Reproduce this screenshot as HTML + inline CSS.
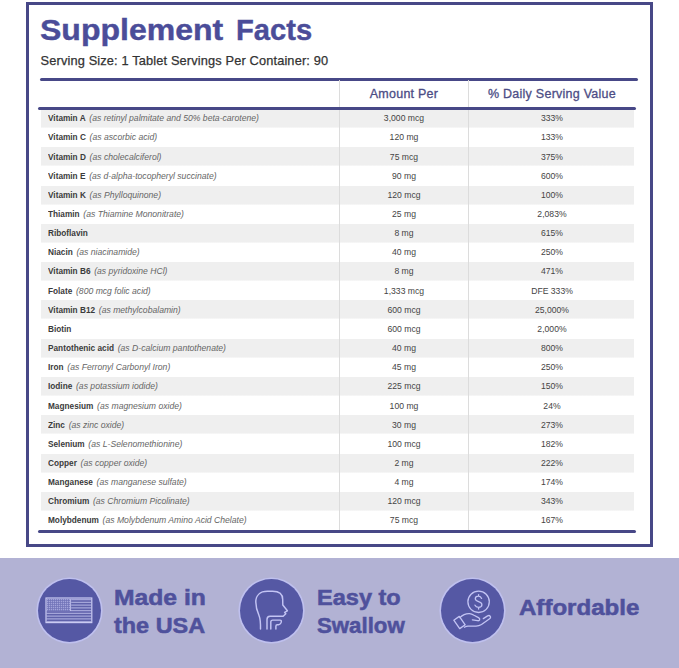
<!DOCTYPE html>
<html><head><meta charset="utf-8">
<style>
*{margin:0;padding:0;box-sizing:border-box}
html,body{width:679px;height:668px;overflow:hidden;background:#fff;font-family:"Liberation Sans",sans-serif}
#frame{position:absolute;left:26px;top:2px;width:627px;height:545px;border:3px solid #474887}
.t{position:absolute;white-space:nowrap;transform-origin:0 0}
#title,#title2{top:12.2px;font-size:29.3px;font-weight:bold;color:#4b4d99;line-height:36px;-webkit-text-stroke:0.4px #4b4d99}
#serv{left:40.6px;top:54px;font-size:12.8px;color:#333;line-height:14px;letter-spacing:0.14px;-webkit-text-stroke:0.25px #333}
.hl{position:absolute;height:3px;background:#474887;border-radius:2px}
.vd{position:absolute;width:1px;background:#dcdcdc;top:80px;height:451px}
.hdr{position:absolute;top:87.2px;font-size:12.5px;color:#4c4d85;-webkit-text-stroke:0.3px #4c4d85;white-space:nowrap;line-height:14px;text-align:center;letter-spacing:0.25px}
.row{position:absolute;left:41.3px;width:593px;height:19.15px}
.row.g{background:linear-gradient(#efefef,#efefef) 0 0/100% 18.6px no-repeat}
.lab{position:absolute;left:6.6px;top:3.4px;font-size:9.4px;line-height:11px;white-space:nowrap;color:#333;transform:scaleX(0.88);transform-origin:0 0}
.lab b{font-weight:bold;color:#3b3b3b}
.lab i{color:#666;margin-left:4.2px;font-size:9.8px}
.c2,.c3{position:absolute;top:3.4px;font-size:9.8px;line-height:11px;text-align:center;color:#444;transform:scaleX(0.88)}
.c2{left:298px;width:130px}
.c3{left:428px;width:166px}
#band{position:absolute;left:0;top:557.5px;width:679px;height:111px;background:#b2b2d4}
.circ{position:absolute;width:63px;height:63px;border-radius:50%;background:#5558a4;box-shadow:0 0 0 1.6px #bfc0ee}
.bt{position:absolute;font-size:22.3px;font-weight:bold;color:#4f519c;line-height:27.5px;white-space:nowrap;-webkit-text-stroke:0.55px #4f519c}
.bt span{display:block;transform-origin:0 50%}
svg{position:absolute;left:0;top:0}
</style></head><body>
<div id="frame"></div>
<div id="title" class="t" style="left:40.3px"><span style="display:inline-block;transform:scaleX(1.093);transform-origin:0 0">Supplement</span></div><div id="title2" class="t" style="left:235.5px"><span style="display:inline-block;transform:scaleX(0.994);transform-origin:0 0">Facts</span></div>
<div id="serv" class="t">Serving Size: 1 Tablet Servings Per Container: 90</div>
<div class="hl" style="left:40px;top:78px;width:598px"></div>
<div class="hdr" style="left:339px;width:130px">Amount Per</div>
<div class="hdr" style="left:469px;width:166px">% Daily Serving Value</div>
<div id="rows">
<div class="row g" style="top:108.90px"><div class="lab"><b>Vitamin A</b><i>(as retinyl palmitate and 50% beta-carotene)</i></div><div class="c2">3,000 mcg</div><div class="c3">333%</div></div>
<div class="row" style="top:128.05px"><div class="lab"><b>Vitamin C</b><i>(as ascorbic acid)</i></div><div class="c2">120 mg</div><div class="c3">133%</div></div>
<div class="row g" style="top:147.20px"><div class="lab"><b>Vitamin D</b><i>(as cholecalciferol)</i></div><div class="c2">75 mcg</div><div class="c3">375%</div></div>
<div class="row" style="top:166.35px"><div class="lab"><b>Vitamin E</b><i>(as d-alpha-tocopheryl succinate)</i></div><div class="c2">90 mg</div><div class="c3">600%</div></div>
<div class="row g" style="top:185.50px"><div class="lab"><b>Vitamin K</b><i>(as Phylloquinone)</i></div><div class="c2">120 mcg</div><div class="c3">100%</div></div>
<div class="row" style="top:204.65px"><div class="lab"><b>Thiamin</b><i>(as Thiamine Mononitrate)</i></div><div class="c2">25 mg</div><div class="c3">2,083%</div></div>
<div class="row g" style="top:223.80px"><div class="lab"><b>Riboflavin</b></div><div class="c2">8 mg</div><div class="c3">615%</div></div>
<div class="row" style="top:242.95px"><div class="lab"><b>Niacin</b><i>(as niacinamide)</i></div><div class="c2">40 mg</div><div class="c3">250%</div></div>
<div class="row g" style="top:262.10px"><div class="lab"><b>Vitamin B6</b><i>(as pyridoxine HCl)</i></div><div class="c2">8 mg</div><div class="c3">471%</div></div>
<div class="row" style="top:281.25px"><div class="lab"><b>Folate</b><i>(800 mcg folic acid)</i></div><div class="c2">1,333 mcg</div><div class="c3">DFE 333%</div></div>
<div class="row g" style="top:300.40px"><div class="lab"><b>Vitamin B12</b><i>(as methylcobalamin)</i></div><div class="c2">600 mcg</div><div class="c3">25,000%</div></div>
<div class="row" style="top:319.55px"><div class="lab"><b>Biotin</b></div><div class="c2">600 mcg</div><div class="c3">2,000%</div></div>
<div class="row g" style="top:338.70px"><div class="lab"><b>Pantothenic acid</b><i>(as D-calcium pantothenate)</i></div><div class="c2">40 mg</div><div class="c3">800%</div></div>
<div class="row" style="top:357.85px"><div class="lab"><b>Iron</b><i>(as Ferronyl Carbonyl Iron)</i></div><div class="c2">45 mg</div><div class="c3">250%</div></div>
<div class="row g" style="top:377.00px"><div class="lab"><b>Iodine</b><i>(as potassium iodide)</i></div><div class="c2">225 mcg</div><div class="c3">150%</div></div>
<div class="row" style="top:396.15px"><div class="lab"><b>Magnesium</b><i>(as magnesium oxide)</i></div><div class="c2">100 mg</div><div class="c3">24%</div></div>
<div class="row g" style="top:415.30px"><div class="lab"><b>Zinc</b><i>(as zinc oxide)</i></div><div class="c2">30 mg</div><div class="c3">273%</div></div>
<div class="row" style="top:434.45px"><div class="lab"><b>Selenium</b><i>(as L-Selenomethionine)</i></div><div class="c2">100 mcg</div><div class="c3">182%</div></div>
<div class="row g" style="top:453.60px"><div class="lab"><b>Copper</b><i>(as copper oxide)</i></div><div class="c2">2 mg</div><div class="c3">222%</div></div>
<div class="row" style="top:472.75px"><div class="lab"><b>Manganese</b><i>(as manganese sulfate)</i></div><div class="c2">4 mg</div><div class="c3">174%</div></div>
<div class="row g" style="top:491.90px"><div class="lab"><b>Chromium</b><i>(as Chromium Picolinate)</i></div><div class="c2">120 mcg</div><div class="c3">343%</div></div>
<div class="row" style="top:511.05px"><div class="lab"><b>Molybdenum</b><i>(as Molybdenum Amino Acid Chelate)</i></div><div class="c2">75 mcg</div><div class="c3">167%</div></div>
</div>
<div class="vd" style="left:339px"></div>
<div class="vd" style="left:468px"></div>
<div class="hl" style="left:38px;top:107px;width:598px"></div>
<div class="hl" style="left:38px;top:530px;width:598px"></div>
<div id="band"></div>
<div class="circ" style="left:38px;top:579px"></div>
<div class="circ" style="left:240px;top:579px"></div>
<div class="circ" style="left:441px;top:579px"></div>
<div class="bt" style="left:114px;top:584px"><span style="transform:scaleX(1.106)">Made in</span><span style="transform:scaleX(1.051)">the USA</span></div>
<div class="bt" style="left:317px;top:584px"><span style="transform:scaleX(1.056)">Easy to</span><span style="transform:scaleX(0.997)">Swallow</span></div>
<div class="bt" style="left:519px;top:593.6px"><span style="transform:scaleX(1.079)">Affordable</span></div>
<svg width="679" height="668" viewBox="0 0 679 668">
<defs>
<pattern id="dots" x="47.5" y="599.5" width="1.9" height="1.9" patternUnits="userSpaceOnUse">
<rect width="1.9" height="1.9" fill="#8e8fcc"/><rect x="0.5" y="0.5" width="0.9" height="0.9" fill="#5d5fa8"/>
</pattern>
</defs>
<g fill="none" stroke="#c6c6f0" stroke-width="1.1">
<!-- flag -->
<rect x="46" y="598" width="45.8" height="24.6" fill="#5f61aa" stroke="none"/>
<path d="M71.2 599.60 H91.3 M71.2 602.35 H91.3 M71.2 605.10 H91.3 M71.2 607.85 H91.3 M46.5 610.60 H91.3 M46.5 613.35 H91.3 M46.5 616.10 H91.3 M46.5 618.85 H91.3 M46.5 621.60 H91.3 " stroke="#a4a5d9" stroke-width="1.35"/>
<rect x="47" y="599" width="23" height="12" fill="#a3a4da" stroke="none"/>
<path d="M48.5 599 V611 M50.5 599 V611 M52.5 599 V611 M54.5 599 V611 M56.5 599 V611 M58.5 599 V611 M60.5 599 V611 M62.5 599 V611 M64.5 599 V611 M66.5 599 V611 M68.5 599 V611 M47 600.5 H70 M47 602.5 H70 M47 604.5 H70 M47 606.5 H70 M47 608.5 H70 M47 610.5 H70 " stroke="#6f71b6" stroke-width="0.7"/>
<path d="M70.6 599 V611" stroke="#c6c6f0" stroke-width="0.9"/>
<rect x="46" y="598" width="45.8" height="24.6" stroke="#cacaf2" stroke-width="1.2"/>
<!-- head -->
<g stroke="#c3c4f4" stroke-width="1.45" stroke-linecap="round" stroke-linejoin="round">
<path d="M260.5 629 C260.6 623 260.5 619 259 615.5 C257 611 255.8 607 255.8 602 C255.8 595.5 260 591.3 267.5 591.3 L272.5 591.3 C279 591.3 282.7 594.5 282.7 599.5 L282.8 605 L287.4 610.8 L284.6 612.4 L285.8 613.8 L283.2 616.2 L270 616.2 C268 616.2 267 617.5 267 619.5 V629"/>
<path d="M270.8 629 V622 C270.8 620.8 271.5 620.1 272.8 620.1 H280 C281.2 620.1 281.6 621 281.2 622.2 L280.7 623.3 C280.3 624.2 279.5 624.7 278.5 624.7 H277.2 C276.4 624.7 275.9 625.3 275.9 626.2 V629"/>
</g>
<!-- money -->
<g stroke="#c3c4f4" stroke-width="1.3" stroke-linecap="round" stroke-linejoin="round">
<circle cx="478.6" cy="601.8" r="10.7"/>
<path d="M481.6 598.4 C481 596.9 479.9 596.2 478.4 596.2 C476.5 596.2 475.3 597.3 475.3 598.8 C475.3 600.4 476.7 601 478.6 601.6 C480.6 602.2 481.9 603 481.9 604.8 C481.9 606.4 480.5 607.3 478.6 607.3 C476.9 607.3 475.6 606.6 475 605.2 M478.6 594.6 V596.2 M478.6 607.3 V609"/>
<path d="M453.8 620.2 L459.3 616.4 L465.2 624.8 L459.7 628.6 Z"/>
<path d="M459.8 617.6 C462.5 615 465.5 613.4 469.5 613.6 C471 613.7 472.5 614.3 474 615.2 L478.5 617.6 C480.6 618.8 479.8 621 477.6 620.7 L472.4 619.9"/>
<path d="M483.3 618.6 L487.6 615.9 C489.8 614.6 491.8 617.2 489.6 618.8 L481.5 624.5 C479.8 625.6 478 626.1 476 626.1 L468 626.1 C466.5 626.1 465.5 626.7 464.5 627.2"/>
</g>
</g>
</svg>

</body></html>
